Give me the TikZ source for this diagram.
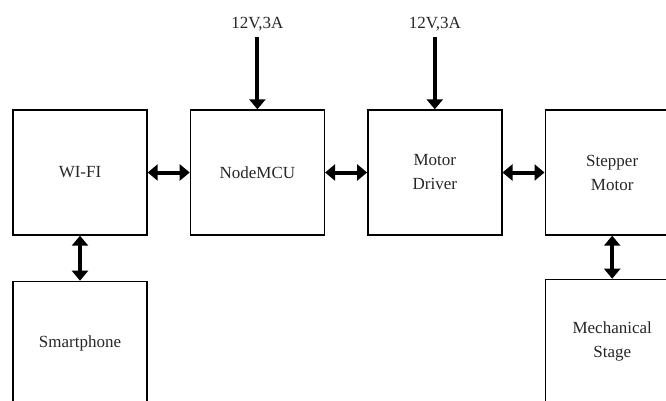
\documentclass[tikz,border=0pt]{standalone}
\usepackage{fontspec}
\setmainfont{Liberation Serif}
\usetikzlibrary{positioning,arrows.meta}

\begin{document}
\begin{tikzpicture}[x=1pt, y=1pt,
  every node/.style={font=\fontsize{17}{24}\selectfont, text=black!85},
  block/.style={draw, line width=1.4pt, rectangle, minimum width=134pt, minimum height=125pt, inner sep=0pt, align=center},
  link/.style={{Triangle[length=10pt,width=16pt]}-{Triangle[length=10pt,width=16pt]}, line width=4pt},
  feed/.style={-{Triangle[length=10pt,width=16pt]}, line width=4pt, shorten <=6pt},
  supply/.style={inner sep=0pt}]

\useasboundingbox (0,0) rectangle (666,-401);

\node[block] at (80,-172.5) (wifi) {WI-FI};
\node[block, right=42pt of wifi] (mcu) {NodeMCU};
\node[block, right=42pt of mcu] (drv) {Motor\\Driver};
\node[block, right=42pt of drv] (stp) {Stepper\\Motor};
\node[block, below=45pt of wifi] (phone) {Smartphone};
\node[block, below=43pt of stp] (stage) {Mechanical\\Stage};

\node[supply, above=78pt of mcu] (vmcu) {12V,3A};
\node[supply, above=78pt of drv] (vdrv) {12V,3A};

\draw[link] (wifi) -- (mcu);
\draw[link] (mcu) -- (drv);
\draw[link] (drv) -- (stp);
\draw[link] (wifi) -- (phone);
\draw[link] (stp) -- (stage);
\draw[feed] (vmcu) -- (mcu);
\draw[feed] (vdrv) -- (drv);
\end{tikzpicture}
\end{document}
